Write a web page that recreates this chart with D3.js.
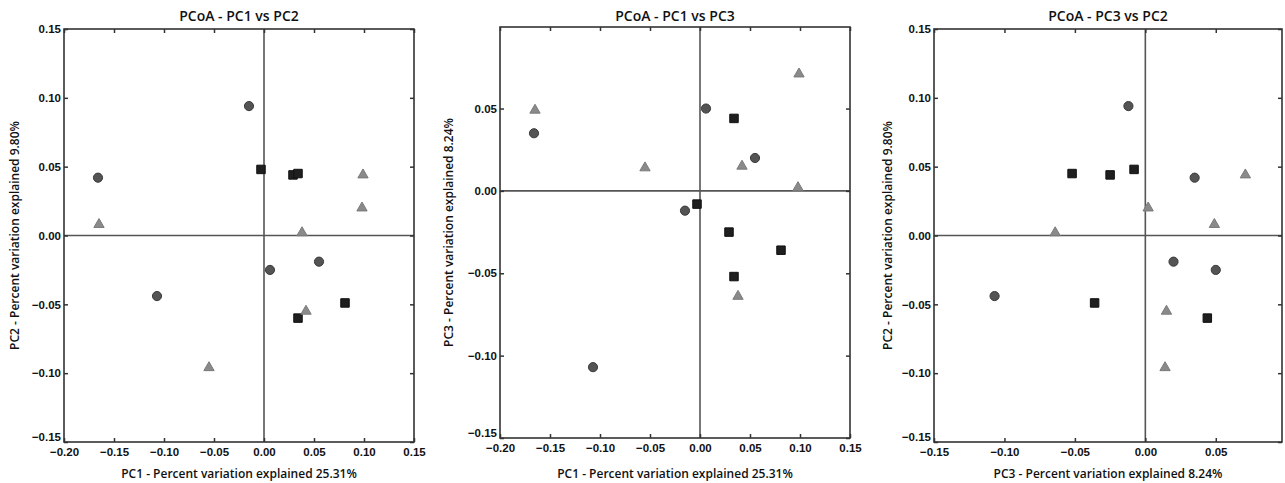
<!DOCTYPE html>
<html>
<head>
<meta charset="utf-8">
<script src="https://cdn.jsdelivr.net/npm/d3@7"></script>
<style>
  body { margin: 0; background: #fff; }
  svg { display: block; font-family: "Open Sans", "DejaVu Sans", sans-serif; }
  .tick text { font-size: 11.5px; font-weight: 600; fill: #111; }
  .tick line { stroke: #333; stroke-width: 1.5; }
</style>
</head>
<body>
<svg id="pcoa" width="1285" height="483"></svg>
<script>
// Samples: group and coordinates on the first three principal coordinates
const groups = ['circle', 'circle', 'circle', 'circle', 'circle',
                'square', 'square', 'square', 'square', 'square',
                'triangle', 'triangle', 'triangle', 'triangle', 'triangle', 'triangle'];
const pc1 = [-0.166, -0.015, -0.107, 0.006, 0.055,
             -0.003, 0.029, 0.034, 0.081, 0.034,
             -0.165, 0.099, 0.098, 0.038, 0.042, -0.055];
const pc2 = [0.042, 0.094, -0.044, -0.025, -0.019,
             0.048, 0.044, 0.045, -0.049, -0.060,
             0.008, 0.044, 0.020, 0.002, -0.055, -0.096];
const pc3 = [0.035, -0.012, -0.107, 0.050, 0.020,
             -0.008, -0.025, -0.052, -0.036, 0.044,
             0.049, 0.071, 0.002, -0.064, 0.015, 0.014];

const explained = { PC1: '25.31%', PC2: '9.80%', PC3: '8.24%' };

const ticksPC1 = [-0.20, -0.15, -0.10, -0.05, 0.00, 0.05, 0.10, 0.15];
const ticksPC2 = [-0.15, -0.10, -0.05, 0.00, 0.05, 0.10, 0.15];
const ticksPC3 = [-0.15, -0.10, -0.05, 0.00, 0.05];

const coords = { PC1: pc1, PC2: pc2, PC3: pc3 };

const panels = [
  { x: 'PC1', y: 'PC2', box: [64, 414, 29, 442], xDom: [-0.20, 0.15], yDom: [-0.15, 0.15],
    xTicks: ticksPC1, yTicks: ticksPC2, yLabelX: 15 },
  { x: 'PC1', y: 'PC3', box: [500, 850, 27, 438], xDom: [-0.20, 0.15], yDom: [-0.15, 0.0995],
    xTicks: ticksPC1, yTicks: ticksPC3, yLabelX: 449 },
  { x: 'PC3', y: 'PC2', box: [934, 1282, 29, 442], xDom: [-0.15, 0.097], yDom: [-0.15, 0.15],
    xTicks: ticksPC3, yTicks: ticksPC2, yLabelX: 888 }
];

const markers = {
  circle:   { type: d3.symbolCircle,   size: 66, fill: '#545454', stroke: '#3a3a3a' },
  square:   { type: d3.symbolSquare,   size: 72, fill: '#1f1f1f', stroke: '#111' },
  triangle: { type: d3.symbolTriangle, size: 46, fill: '#8a8a8a', stroke: '#7a7a7a' }
};

const fmt = d3.format('.2f');
const svg = d3.select('#pcoa');

panels.forEach(function (p) {
  const [x0, x1, y0, y1] = p.box;
  const xScale = d3.scaleLinear().domain(p.xDom).range([x0, x1]);
  const yScale = d3.scaleLinear().domain(p.yDom).range([y1, y0]);
  const g = svg.append('g');

  // Zero lines
  g.append('line')
    .attr('x1', xScale(0)).attr('x2', xScale(0)).attr('y1', y0).attr('y2', y1)
    .attr('stroke', '#555').attr('stroke-width', 1.6);
  g.append('line')
    .attr('x1', x0).attr('x2', x1).attr('y1', yScale(0)).attr('y2', yScale(0))
    .attr('stroke', '#555').attr('stroke-width', 1.6);

  // Axes with inward ticks on all four sides
  const minus = (d) => fmt(d).replace('-', '\u2212');
  g.append('g').attr('transform', `translate(0,${y1})`)
    .call(d3.axisBottom(xScale).tickValues(p.xTicks).tickSize(-4).tickPadding(6).tickFormat(minus))
    .call((a) => a.select('.domain').remove());
  g.append('g').attr('transform', `translate(0,${y0})`)
    .call(d3.axisTop(xScale).tickValues(p.xTicks).tickSize(-4).tickFormat(''))
    .call((a) => a.select('.domain').remove());
  const left = g.append('g').attr('transform', `translate(${x0},0)`)
    .call(d3.axisLeft(yScale).tickValues(p.yTicks).tickSize(-4).tickPadding(3).tickFormat(minus))
    .call((a) => a.select('.domain').remove());
  // lift the bottom label a little so it clears the x tick labels
  left.selectAll('.tick').filter((d) => d === p.yDom[0]).select('text').attr('dy', '-0.1em');
  g.append('g').attr('transform', `translate(${x1},0)`)
    .call(d3.axisRight(yScale).tickValues(p.yTicks).tickSize(-4).tickFormat(''))
    .call((a) => a.select('.domain').remove());

  g.selectAll('.tick text').attr('font-family', null);

  // Frame
  g.append('rect')
    .attr('x', x0).attr('y', y0).attr('width', x1 - x0).attr('height', y1 - y0)
    .attr('fill', 'none').attr('stroke', '#333').attr('stroke-width', 1.6);

  // Points
  const xs = coords[p.x], ys = coords[p.y];
  g.selectAll('path.pt').data(groups).enter().append('path')
    .attr('class', 'pt')
    .attr('transform', (d, i) => `translate(${xScale(xs[i])},${yScale(ys[i])})`)
    .attr('d', (d) => d3.symbol().type(markers[d].type).size(markers[d].size)())
    .attr('fill', (d) => markers[d].fill)
    .attr('stroke', (d) => markers[d].stroke)
    .attr('stroke-width', 1);

  // Titles
  const cx = (x0 + x1) / 2;
  g.append('text')
    .attr('x', cx).attr('y', 21).attr('text-anchor', 'middle')
    .attr('font-size', 14).attr('font-weight', 600).attr('fill', '#111')
    .text(`PCoA - ${p.x} vs ${p.y}`);
  g.append('text')
    .attr('x', cx).attr('y', 478).attr('text-anchor', 'middle')
    .attr('font-size', 12).attr('font-weight', 600).attr('fill', '#111')
    .text(`${p.x} - Percent variation explained ${explained[p.x]}`);
  g.append('text')
    .attr('transform', `translate(${p.yLabelX},${(y0 + y1) / 2}) rotate(-90)`)
    .attr('text-anchor', 'middle').attr('dy', '0.35em')
    .attr('font-size', 12).attr('font-weight', 600).attr('fill', '#111')
    .text(`${p.y} - Percent variation explained ${explained[p.y]}`);
});
</script>
</body>
</html>
